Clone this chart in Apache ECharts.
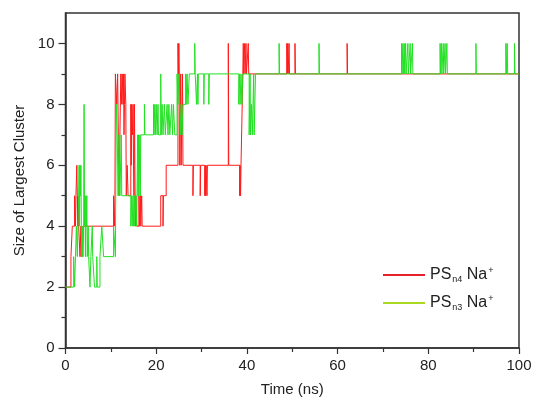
<!DOCTYPE html>
<html>
<head>
<meta charset="utf-8">
<script src="https://cdn.jsdelivr.net/npm/echarts@6/dist/echarts.min.js"></script>
<style>
html,body{margin:0;padding:0;background:#fff;}
#c{width:535px;height:402px;}
</style>
</head>
<body>
<div id="c"></div>
<script>
// ---- data (time in ns, size of largest cluster) ----
var seriesNames = ['PSn4 Na+', 'PSn3 Na+'];
var xTicks = [0, 20, 40, 60, 80, 100];
var yTicks = [0, 2, 4, 6, 8, 10];
var yMinorTicks = [1, 3, 5, 7, 9];

var redSteps = [
  [0,2],[1.2,3],[1.5,4],[2.0,5],[2.2,4],[2.3,5],[2.5,6],[2.6,5],[2.7,4],[2.8,5],[2.9,4],
  [3.2,3],[3.4,4],[3.5,3],[3.7,4],[3.8,3],[3.9,4],
  [10.6,5],[10.8,4],[10.9,5],[11.0,9],[11.3,8],[11.5,9],[11.8,5],[12.2,9],[12.4,8],[12.5,9],
  [12.7,8],[12.8,9],[12.9,7],[13.0,8],[13.1,9],[13.3,8],[13.4,5],[13.6,6],[13.8,5],
  [14.4,8],[14.5,6],[14.6,8],[14.8,7],[14.9,8],[15.0,6],[15.1,5],[15.2,8],[15.3,6],[15.4,4],
  [15.5,5],[15.7,4],[16.2,5],[16.3,4],[16.5,5],[16.6,4],[16.8,5],[16.9,4],
  [21.0,5],[21.5,4],[21.6,5],[22.2,6],
  [24.8,10],[24.9,9],[25.0,10],[25.1,9],[25.2,6],[25.4,9],[25.5,6],[25.8,9],[25.9,6],
  [28.1,5],[28.2,6],[29.7,5],[29.8,6],[30.7,5],[30.8,6],[30.9,5],[31.0,6],[31.2,5],[31.3,6],
  [35.9,10],[36.0,6],[38.4,5],[38.5,6],[38.6,5],[38.7,6],
  [39.1,9],[39.2,10],[39.3,9],[39.5,10],[39.6,9],[39.8,10],[39.9,9],[40.3,10],[40.4,9],
  [48.8,10],[48.9,9],[49.0,10],[49.1,9],[49.3,10],[49.4,9],[50.6,10],[50.7,9],
  [62.1,10],[62.2,9],[100,9]
];

var greenSteps = [
  [0,2],[1.8,3],[2.0,2],[2.2,3],[2.4,4],[2.6,3],[2.9,5],[3.0,6],[3.1,4],[3.2,6],[3.3,5],
  [3.4,6],[3.5,4],[3.6,3],[3.7,4],[3.8,3],[4.0,4],[4.1,8],[4.2,4],[4.3,5],[4.4,3],[4.5,5],
  [4.6,4],[4.7,5],[4.8,3],[5.0,4],[5.1,3],[5.4,2],[5.6,3],[5.9,4],[6.0,3],[6.4,2],[6.9,3],
  [7.0,2],[7.6,3],[8.0,4],[8.4,3],[10.6,4],[11.0,3],[11.2,8],[11.4,7],[11.6,5],[11.8,7],
  [12.0,5],[12.3,7],[12.4,5],[14.4,4],[14.6,5],[14.7,4],[14.9,5],[15.0,4],[15.2,5],[15.3,4],
  [15.5,5],[15.7,4],[15.9,7],[16.0,5],[16.1,7],[16.2,5],[16.4,7],[16.5,5],[16.6,7],
  [17.4,8],[17.5,7],[19.4,8],[19.5,7],[19.7,8],[19.8,7],[20.0,8],[20.2,7],[20.4,8],[20.5,7],
  [21.0,9],[21.1,7],[21.3,8],[21.5,7],[21.8,8],[22.0,7],[22.4,8],[22.6,7],[22.8,8],[23.0,7],
  [23.4,8],[23.6,7],[23.8,8],[24.1,7],[24.6,9],[24.8,8],[25.0,9],[25.3,7],[25.5,8],[25.7,7],
  [25.9,8],[26.5,9],[26.6,8],[26.8,9],[27.0,8],[27.3,9],[28.5,10],[28.6,9],[28.9,8],[29.1,9],
  [29.2,8],[29.3,9],[30.5,8],[30.6,9],[31.6,8],[31.7,9],[38.2,8],[38.4,9],[38.5,8],[38.7,9],
  [38.9,8],[39.1,9],[40.5,7],[40.7,9],[40.8,7],[41.0,8],[41.2,7],[41.5,9],[41.6,7],[41.9,9],
  [47.1,10],[47.2,9],[55.9,10],[56.0,9],[74.1,10],[74.2,9],[74.4,10],[74.5,9],[74.7,10],
  [74.8,9],[75.0,10],[75.1,9],[75.5,10],[75.6,9],[76.0,10],[76.1,9],[76.5,10],[76.6,9],
  [82.6,10],[82.7,9],[82.9,10],[83.0,9],[83.3,10],[83.4,9],[83.7,10],[83.8,9],[84.1,10],
  [84.2,9],[90.5,10],[90.6,9],[97.1,10],[97.2,9],[97.4,10],[97.5,9],[99.0,10],[99.1,9],[100,9]
];

var chart = echarts.init(document.getElementById('c'), null, {renderer: 'canvas'});
var font = 'Liberation Sans, Arial, sans-serif';
var axisColor = '#333';
var textColor = '#222';

var option = {
  animation: false,
  backgroundColor: '#fff',
  textStyle: {fontFamily: font, color: textColor},
  grid: {left: 65.5, right: 16, top: 13, bottom: 54, show: true, borderColor: axisColor, borderWidth: 1.5, backgroundColor: 'transparent'},
  legend: {
    orient: 'vertical', left: 378, top: 261, itemGap: 10,
    icon: 'rect', itemWidth: 42, itemHeight: 2,
    data: [
      {name: seriesNames[0], itemStyle: {color: '#e8202a'}},
      {name: seriesNames[1], itemStyle: {color: '#a8d820'}}
    ],
    formatter: function (n) {
      var sub = n === seriesNames[0] ? 'n4' : 'n3';
      return '{a|PS}{s|' + sub + '}{a| Na}{p|+}';
    },
    textStyle: {
      fontFamily: font, color: textColor,
      rich: {
        a: {fontSize: 16, fontFamily: font, color: textColor, lineHeight: 20},
        s: {fontSize: 9, fontFamily: font, color: textColor, padding: [9, 0, 0, 1], lineHeight: 20},
        p: {fontSize: 9, fontFamily: font, color: textColor, padding: [0, 0, 9, 1], lineHeight: 20}
      }
    }
  },
  xAxis: {
    type: 'value', min: 0, max: 100, interval: 20,
    name: 'Time (ns)', nameLocation: 'middle', nameGap: 34,
    nameTextStyle: {fontSize: 15, fontFamily: font, color: textColor},
    axisLine: {show: true, lineStyle: {color: axisColor, width: 1.5}},
    axisTick: {show: true, inside: false, length: 6, lineStyle: {color: axisColor, width: 1.2}},
    minorTick: {show: true, splitNumber: 2, length: 4, lineStyle: {color: axisColor, width: 1.2}},
    axisLabel: {fontSize: 15, fontFamily: font, color: textColor, margin: 10},
    splitLine: {show: false}
  },
  yAxis: [{
    type: 'value', min: 0, max: 11, interval: 1,
    name: 'Size of Largest Cluster', nameLocation: 'middle', nameGap: 36,
    nameTextStyle: {fontSize: 15, fontFamily: font, color: textColor},
    axisLine: {show: true, lineStyle: {color: axisColor, width: 1.5}},
    axisTick: {show: true, length: 7, customValues: yTicks, lineStyle: {color: axisColor, width: 1.2}},
    axisLabel: {fontSize: 15, fontFamily: font, color: textColor, margin: 11, customValues: yTicks},
    splitLine: {show: false}
  }, {
    type: 'value', min: 0, max: 11, interval: 1, position: 'left',
    axisLine: {show: false},
    axisTick: {show: true, length: 4, customValues: yMinorTicks, lineStyle: {color: axisColor, width: 1.2}},
    axisLabel: {show: false},
    splitLine: {show: false}
  }],
  series: [{
    name: seriesNames[0], type: 'line', step: 'end', symbol: 'none',
    data: redSteps, yAxisIndex: 0,
    lineStyle: {color: '#ff1a1a', width: 1}, itemStyle: {color: '#e8202a'}
  }, {
    name: seriesNames[1], type: 'line', step: 'end', symbol: 'none',
    data: greenSteps, yAxisIndex: 0,
    lineStyle: {color: '#22e022', width: 1}, itemStyle: {color: '#a8d820'}
  }]
};
chart.setOption(option);
</script>
</body>
</html>
